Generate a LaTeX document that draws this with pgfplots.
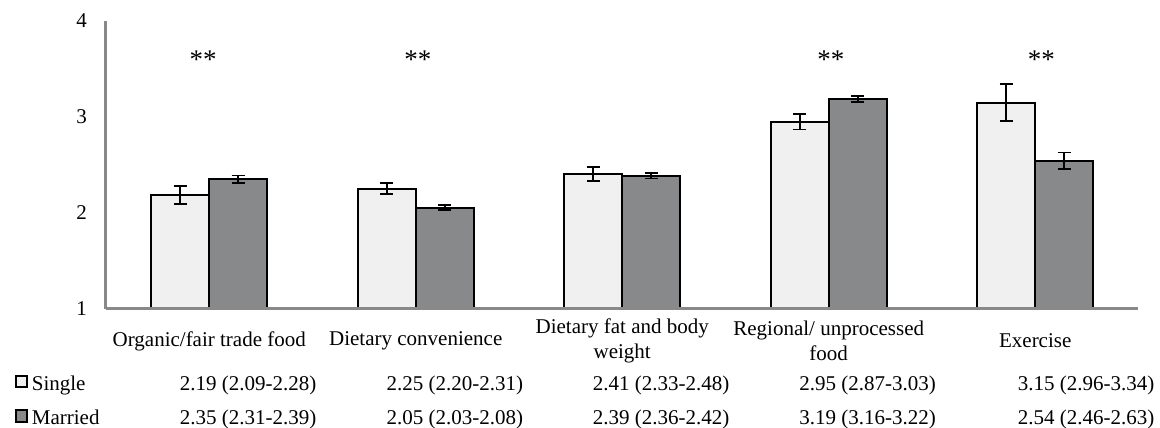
\documentclass[border=0pt]{standalone}
\usepackage{pgfplots}
\pgfplotsset{compat=1.18}
\usepackage{pgfplotstable}
\usepackage{fontspec}
\setmainfont{Liberation Serif}
\definecolor{singlec}{RGB}{240,240,240}
\definecolor{marriedc}{RGB}{136,137,139}
\definecolor{axisgray}{RGB}{137,137,137}

\pgfplotstableread{
x y ep em
0 2.19 0.09 0.10
1 2.25 0.06 0.05
2 2.41 0.07 0.08
3 2.95 0.08 0.08
4 3.15 0.19 0.19
}\single
\pgfplotstableread{
x y ep em
0 2.35 0.04 0.04
1 2.05 0.03 0.02
2 2.39 0.03 0.03
3 3.19 0.03 0.03
4 2.54 0.09 0.08
}\married

\begin{document}
\fontsize{21}{25}\selectfont
\begin{tikzpicture}[font=\fontsize{21}{25}\selectfont]
\useasboundingbox (0,0) rectangle (1160pt,428pt);
\begin{axis}[
  at={(106pt,119pt)}, anchor=south west,
  scale only axis, width=1032.5pt, height=288pt,
  xmin=-0.5, xmax=4.5, ymin=1, ymax=4,
  ybar=0pt, bar width=58pt,
  axis x line*=bottom, axis y line*=left,
  axis line style={draw=axisgray, line width=3pt, -},
  x axis line style={line width=3pt},
  y axis line style={line width=3pt},
  axis on top,
  xtick=data,
  xticklabels={Organic/fair trade food, Dietary convenience, {Dietary fat and body\\weight}, {Regional/ unprocessed\\food}, Exercise},
  xticklabel style={anchor=center, yshift=-32pt, align=center},
  ytick={1,2,3,4},
  major tick length=0pt,
  tick style={draw=none},
  yticklabel style={xshift=-12pt},
  /pgf/number format/assume math mode=true,
  clip mode=individual,
]
\addplot[fill=singlec, draw=black, line width=2pt,
  error bars/.cd, y dir=both, y explicit,
  error bar style={line width=1.8pt, black},
  error mark options={rotate=90, mark size=6.5pt, line width=1.8pt, black}]
  table[x=x, y=y, y error plus=ep, y error minus=em] {\single};
\addplot[fill=marriedc, draw=black, line width=2pt,
  error bars/.cd, y dir=both, y explicit,
  error bar style={line width=1.8pt, black},
  error mark options={rotate=90, mark size=6.5pt, line width=1.8pt, black}]
  table[x=x, y=y, y error plus=ep, y error minus=em] {\married};

\node[anchor=base, font=\fontsize{27}{30}\selectfont] at (axis cs:-0.03,3.51) {**};
\node[anchor=base, font=\fontsize{27}{30}\selectfont] at (axis cs:1.01,3.51) {**};
\node[anchor=base, font=\fontsize{27}{30}\selectfont] at (axis cs:3.01,3.51) {**};
\node[anchor=base, font=\fontsize{27}{30}\selectfont] at (axis cs:4.03,3.51) {**};

\draw[fill=singlec, line width=1.8pt] (axis cs:-0.936,0.1875) rectangle (axis cs:-0.884,0.302);
\draw[fill=marriedc, line width=1.8pt] (axis cs:-0.936,-0.174) rectangle (axis cs:-0.884,-0.052);
\node[anchor=base west, inner sep=0pt] at (axis cs:-0.860,0.156) {Single};
\node[anchor=base west, inner sep=0pt] at (axis cs:-0.860,-0.198) {Married};

\node[anchor=base] at (axis cs:0.188,0.156) {2.19 (2.09-2.28)};
\node[anchor=base] at (axis cs:1.190,0.156) {2.25 (2.20-2.31)};
\node[anchor=base] at (axis cs:2.188,0.156) {2.41 (2.33-2.48)};
\node[anchor=base] at (axis cs:3.188,0.156) {2.95 (2.87-3.03)};
\node[anchor=base] at (axis cs:4.246,0.156) {3.15 (2.96-3.34)};

\node[anchor=base] at (axis cs:0.188,-0.198) {2.35 (2.31-2.39)};
\node[anchor=base] at (axis cs:1.190,-0.198) {2.05 (2.03-2.08)};
\node[anchor=base] at (axis cs:2.188,-0.198) {2.39 (2.36-2.42)};
\node[anchor=base] at (axis cs:3.188,-0.198) {3.19 (3.16-3.22)};
\node[anchor=base] at (axis cs:4.246,-0.198) {2.54 (2.46-2.63)};
\end{axis}
\end{tikzpicture}
\end{document}
